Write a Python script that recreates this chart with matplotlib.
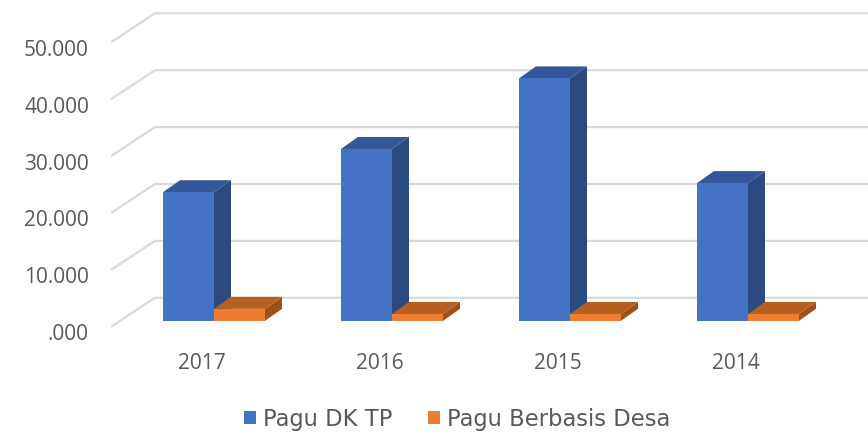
import matplotlib
matplotlib.use("Agg")
import matplotlib.pyplot as plt
from matplotlib.patches import Polygon, Rectangle
from matplotlib.transforms import ScaledTranslation

categories = ["2017", "2016", "2015", "2014"]
pagu_dk_tp = [22.6, 30.2, 42.6, 24.2]
pagu_desa = [2.1, 1.2, 1.2, 1.2]
y_ticks = [0, 10, 20, 30, 40, 50]
y_labels = [".000", "10.000", "20.000", "30.000", "40.000", "50.000"]
series_names = ["Pagu DK TP", "Pagu Berbasis Desa"]

plt.rcParams["font.family"] = ["Open Sans", "DejaVu Sans"]

W, H = 868, 435
dpi = 100
fig = plt.figure(figsize=(W / dpi, H / dpi), dpi=dpi, facecolor="white")
L, R, T, B = 100, 868, 0, 340
ax = fig.add_axes([L / W, 1 - B / H, (R - L) / W, (B - T) / H])

PX_X = 178.0   # pixels per category
PX_Y = 5.69    # pixels per thousand
X0 = 214.0     # pixel of category 0 centre
Y0 = 321.8     # pixel of value 0
ax.set_xlim((L - X0) / PX_X, (R - X0) / PX_X)
ax.set_ylim((Y0 - B) / PX_Y, (Y0 - T) / PX_Y)

bw = 51 / PX_X
dx, dy = 17 / PX_X, 12 / PX_Y
gx_front, gx_back = (111 - X0) / PX_X, (155 - X0) / PX_X
gy_front, gy_back = (Y0 - 327.8) / PX_Y, (Y0 - 298.8) / PX_Y
grid_c = "#D9D9D9"
for v in y_ticks:
    ax.plot([gx_front, gx_back, (R - X0) / PX_X], [v + gy_front, v + gy_back, v + gy_back],
            color=grid_c, lw=1.6, solid_joinstyle="miter", solid_capstyle="butt", zorder=1)


def bar3d(x, h, front, top, side, z):
    ax.add_patch(Polygon([(x + bw, 0), (x + bw + dx, dy), (x + bw + dx, h + dy), (x + bw, h)],
                         closed=True, fc=side, ec="none", zorder=z))
    ax.add_patch(Polygon([(x, h), (x + dx, h + dy), (x + bw + dx, h + dy), (x + bw, h)],
                         closed=True, fc=top, ec="none", zorder=z))
    ax.add_patch(Rectangle((x, 0), bw, h, fc=front, ec="none", zorder=z + 0.1))


for i, (a, b) in enumerate(zip(pagu_dk_tp, pagu_desa)):
    bar3d(i - bw, a, "#4472C4", "#34569A", "#2A4A80", 3)
    bar3d(i, b, "#ED7D31", "#B5601F", "#9C501B", 4)

for s in ax.spines.values():
    s.set_visible(False)
ax.patch.set_visible(False)
text_c = "#595959"
ax.set_xticks(range(len(categories)), categories)
ax.set_yticks(y_ticks, y_labels)
ax.tick_params(axis="both", length=0, colors=text_c, labelsize=15)
ax.tick_params(axis="x", pad=9.7)
ax.tick_params(axis="y", pad=8)
for lab in ax.get_xticklabels():
    lab.set_transform(lab.get_transform() + ScaledTranslation(-12 / dpi, 0, fig.dpi_scale_trans))
for lab in ax.get_yticklabels():
    lab.set_transform(lab.get_transform() + ScaledTranslation(0, -10.5 / dpi, fig.dpi_scale_trans))

handles = [Rectangle((0, 0), 1, 1, fc="#4472C4", ec="none"),
           Rectangle((0, 0), 1, 1, fc="#ED7D31", ec="none")]
fig.legend(handles, series_names, loc="center", bbox_to_anchor=(457 / W, 1 - 420 / H), ncol=2,
           frameon=False, labelcolor=text_c,
           prop={"family": "DejaVu Sans", "size": 16.3},
           handlelength=0.53, handleheight=0.53, handletextpad=0.31, columnspacing=1.59,
           borderpad=0, borderaxespad=0)

fig.savefig("out.png", dpi=dpi, facecolor="white")
